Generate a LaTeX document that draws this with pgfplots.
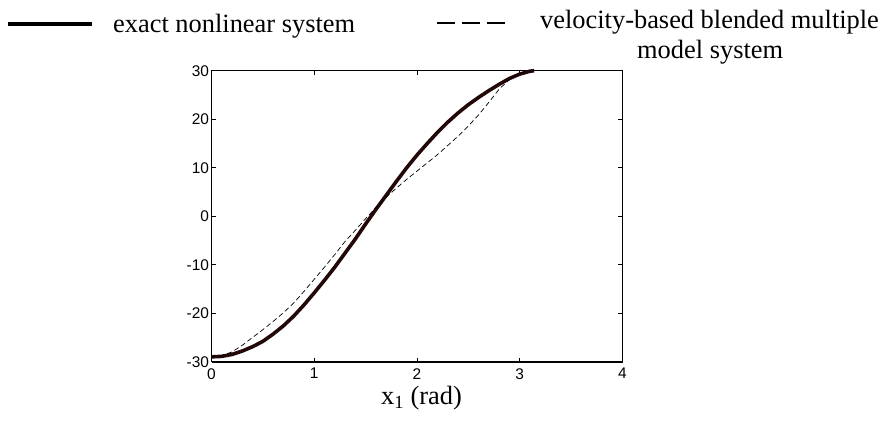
\documentclass[border=0pt]{standalone}
\usepackage{fontspec}
\setmainfont{Liberation Serif}
\setsansfont{Liberation Sans}
\usepackage{pgfplots}
\pgfplotsset{compat=1.18}
\definecolor{exactcol}{RGB}{35,8,8}

\begin{document}
\begin{tikzpicture}
\useasboundingbox (-211.5bp,-61.3bp) rectangle (671.5bp,361.7bp);
\begin{axis}[
    scale only axis,
    width=411bp, height=291bp,
    xmin=0, xmax=4, ymin=-30, ymax=30,
    xtick={0,1,2,3,4},
    ytick={-30,-20,-10,0,10,20,30},
    tick align=inside,
    major tick length=4bp,
    axis line style={line width=1.1bp},
    every tick/.style={black, line width=0.6bp},
    /pgf/number format/assume math mode=true,
    ticklabel style={font=\fontsize{15.5}{17}\sffamily},
    yticklabel style={xshift=1bp},
    xticklabel style={yshift=-3bp},
    clip=false,
    ]
    \draw[line width=2.2bp] (rel axis cs:0,0) -- (rel axis cs:1,0);
    % exact nonlinear system
    \addplot[exactcol, line width=3.6bp] coordinates {
      (0,-29.0) (0.1,-28.9) (0.2,-28.5) (0.3,-27.8) (0.4,-26.9)
      (0.5,-25.8) (0.6,-24.3) (0.7,-22.6) (0.8,-20.6) (0.9,-18.3)
      (1.0,-15.8) (1.1,-13.2) (1.2,-10.5) (1.3,-7.6) (1.4,-4.7)
      (1.5,-1.6) (1.6,1.4) (1.7,4.3) (1.8,7.2) (1.9,10.0)
      (2.0,12.6) (2.1,15.0) (2.2,17.3) (2.3,19.4) (2.4,21.3)
      (2.5,23.0) (2.6,24.5) (2.7,25.9) (2.8,27.2) (2.9,28.4)
      (3.0,29.3) (3.1,29.9) (3.14,30.0)
    };
    % velocity-based blended multiple model system
    \addplot[black, line width=0.7bp, dash pattern=on 5bp off 3bp] coordinates {
      (0,-29.0) (0.1,-28.7) (0.2,-28.0) (0.3,-26.6) (0.4,-25.0)
      (0.5,-23.4) (0.6,-21.7) (0.7,-19.9) (0.8,-17.9) (0.9,-15.5)
      (1.0,-13.0) (1.1,-10.5) (1.2,-7.9) (1.3,-5.2) (1.4,-2.9)
      (1.5,-0.5) (1.6,1.8) (1.7,3.9) (1.8,5.8) (1.9,7.6)
      (2.0,9.3) (2.1,11.0) (2.2,12.7) (2.3,14.6) (2.4,16.5)
      (2.5,18.6) (2.6,20.9) (2.7,23.5) (2.8,26.2) (2.9,28.2)
      (3.0,29.5) (3.1,30.0)
    };
\end{axis}
% x label
\node[anchor=base, inner sep=0pt, font=\fontsize{26.5}{30}\selectfont]
  at (210bp,-43bp) {x\textsubscript{1} (rad)};
% legend above the axis
\draw[black, line width=3.2bp] (-203.5bp,337.7bp) -- (-119.5bp,337.7bp);
\node[anchor=base west, inner sep=0pt, font=\fontsize{26.5}{30}\selectfont]
  at (-98.5bp,328.7bp) {exact nonlinear system};
\draw[black, line width=1.3bp, dash pattern=on 18bp off 7bp] (225.5bp,338.7bp) -- (293.5bp,338.7bp);
\node[anchor=base west, inner sep=0pt, font=\fontsize{26.5}{30}\selectfont]
  at (328.5bp,332.7bp) {velocity-based blended multiple};
\node[anchor=base west, inner sep=0pt, font=\fontsize{26.5}{30}\selectfont]
  at (425.5bp,302.7bp) {model system};
\end{tikzpicture}
\end{document}
